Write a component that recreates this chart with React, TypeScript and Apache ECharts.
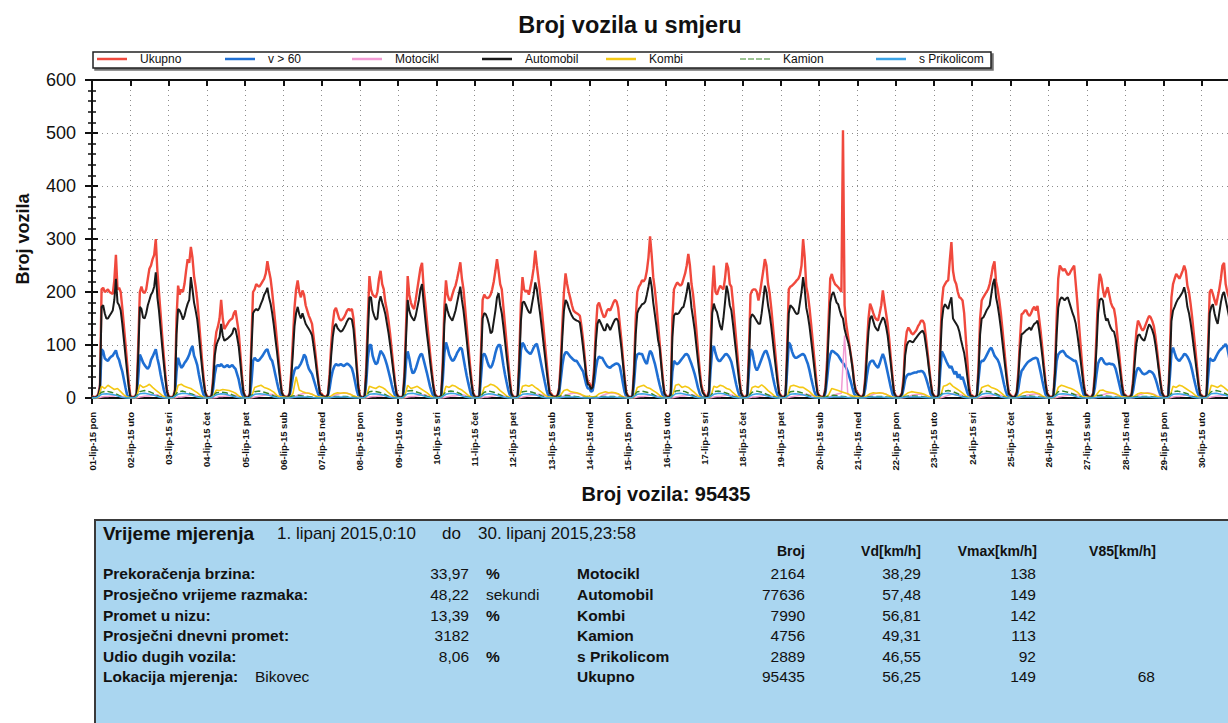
import { useEffect, useRef } from 'react';
import * as echarts from 'echarts';

const FONT = "'Liberation Sans', Arial, Helvetica, sans-serif";

const chartTitle = 'Broj vozila u smjeru';
const yAxisTitle = 'Broj vozila';
const xAxisTitle = 'Broj vozila: 95435';

const dayLabels = [
  '01-lip-15 pon', '02-lip-15 uto', '03-lip-15 sri', '04-lip-15 čet', '05-lip-15 pet', '06-lip-15 sub', '07-lip-15 ned',
  '08-lip-15 pon', '09-lip-15 uto', '10-lip-15 sri', '11-lip-15 čet', '12-lip-15 pet', '13-lip-15 sub', '14-lip-15 ned',
  '15-lip-15 pon', '16-lip-15 uto', '17-lip-15 sri', '18-lip-15 čet', '19-lip-15 pet', '20-lip-15 sub', '21-lip-15 ned',
  '22-lip-15 pon', '23-lip-15 uto', '24-lip-15 sri', '25-lip-15 čet', '26-lip-15 pet', '27-lip-15 sub', '28-lip-15 ned',
  '29-lip-15 pon', '30-lip-15 uto',
];

// hourly counts, one row per day (24 values)
const ukupno = [
  [4,2,2,3,8,25,205,208,200,202,205,200,198,196,222,270,205,208,200,170,136,102,67,32],
  [5,2,2,3,10,100,200,210,200,198,205,225,244,250,262,270,300,240,200,160,118,80,45,15],
  [4,2,2,3,15,150,212,195,205,200,215,240,262,255,285,265,230,210,185,150,110,72,38,12],
  [4,2,2,5,40,100,125,135,150,185,150,130,135,140,145,148,150,160,165,145,125,85,45,12],
  [4,2,2,8,110,200,205,215,212,210,215,220,225,235,258,240,225,200,170,140,108,75,42,12],
  [5,3,2,3,10,50,110,170,205,222,200,190,203,195,175,165,155,148,140,115,88,60,32,10],
  [8,4,3,3,8,45,100,140,165,170,160,150,146,148,152,158,165,168,165,168,150,110,65,25],
  [5,2,2,4,60,150,230,205,195,192,190,200,225,240,215,205,180,165,145,120,90,60,32,10],
  [4,2,2,4,50,140,230,195,180,172,168,185,205,225,245,255,208,180,148,118,85,55,28,8],
  [4,2,2,5,70,170,222,195,185,184,195,205,212,225,240,256,225,205,170,135,100,65,35,10],
  [4,2,2,5,90,185,195,190,188,190,195,205,220,240,262,240,215,205,172,138,104,70,38,10],
  [4,2,2,5,80,180,228,205,200,203,195,210,225,245,278,250,225,200,170,138,105,72,40,12],
  [8,4,3,3,6,20,70,140,200,235,215,200,188,175,165,162,160,158,155,135,110,78,45,30],
  [28,20,25,60,130,175,180,170,160,152,155,165,168,165,172,180,185,182,170,140,110,75,40,12],
  [5,2,2,5,60,150,200,210,215,222,220,225,240,265,305,270,228,205,175,140,105,70,38,10],
  [5,2,3,10,150,205,212,218,215,212,215,225,235,250,272,250,215,195,165,130,92,58,28,14],
  [8,3,3,15,100,200,250,200,195,205,212,208,205,225,255,245,215,210,180,145,110,75,40,12],
  [5,2,2,8,90,195,203,205,205,200,184,200,220,240,262,250,215,198,170,138,104,70,38,10],
  [5,2,2,8,100,205,210,212,215,218,222,225,232,250,300,265,210,195,170,140,108,75,42,12],
  [5,3,2,4,20,70,150,225,234,222,215,212,209,205,200,505,175,140,120,100,80,60,30,15],
  [10,5,3,3,8,40,100,150,178,170,160,152,148,146,160,175,203,180,160,140,110,75,42,12],
  [5,2,2,4,10,40,100,125,133,128,122,120,124,128,135,140,146,146,140,115,88,60,32,10],
  [5,2,2,8,100,180,209,215,220,222,260,294,240,222,215,200,190,188,184,160,115,70,25,6],
  [5,2,2,6,60,150,184,190,195,200,205,215,230,248,258,220,205,185,160,130,98,65,35,10],
  [6,3,2,4,12,50,110,158,160,165,165,158,155,160,168,172,165,174,150,125,95,62,32,10],
  [5,2,2,6,60,150,225,250,245,240,244,238,232,234,240,245,250,215,180,140,100,62,28,8],
  [6,3,2,3,10,50,120,200,234,225,205,190,200,209,195,180,172,168,150,120,90,58,28,8],
  [6,3,2,3,8,35,85,125,146,140,132,127,132,140,148,155,152,145,135,115,90,62,35,12],
  [5,2,2,5,80,190,215,225,234,230,225,232,240,250,240,212,200,178,152,122,92,60,30,8],
  [5,2,2,6,100,200,205,196,185,175,190,205,225,250,255,215,200,190,165,135,100,65,35,10],
];

const automobil = [
  [3,1,1,2,6,20,172,175,160,150,150,155,160,165,185,225,180,175,165,140,110,80,50,22],
  [2,1,1,2,8,80,172,168,152,150,160,175,185,195,200,210,237,190,165,132,98,66,36,12],
  [3,1,1,2,12,120,168,165,158,148,155,168,178,185,228,205,180,165,148,120,88,58,30,10],
  [3,1,1,4,30,80,100,108,115,140,118,108,110,112,115,118,122,132,130,115,98,68,35,10],
  [3,1,1,6,90,160,165,168,165,170,178,185,195,200,208,190,178,160,138,112,88,60,33,10],
  [4,2,1,2,8,40,85,135,160,172,158,150,160,150,140,135,130,125,118,98,75,50,27,8],
  [6,3,2,2,6,35,80,115,135,140,132,128,125,127,132,138,145,150,150,148,130,95,55,20],
  [4,1,1,3,45,120,190,190,165,155,148,150,180,192,180,170,158,140,122,100,75,50,26,8],
  [3,1,1,3,40,115,185,165,155,150,146,155,170,185,205,215,180,150,122,98,70,45,22,6],
  [3,1,1,4,55,140,178,165,155,150,146,155,165,180,195,210,185,165,138,110,80,52,27,8],
  [3,1,1,4,72,150,160,158,150,138,122,125,145,165,190,198,175,160,135,108,80,54,28,8],
  [3,1,1,4,65,145,180,182,175,168,162,160,178,195,218,205,182,160,135,108,82,55,30,9],
  [6,3,2,2,5,16,55,115,165,185,180,170,162,155,150,148,146,145,142,120,95,68,40,26],
  [24,17,20,48,105,140,148,142,135,128,128,140,135,128,135,142,148,150,145,120,95,65,35,10],
  [4,1,1,4,48,120,160,168,172,177,178,182,195,210,228,210,180,158,135,110,95,62,30,8],
  [4,1,2,8,115,155,160,158,160,165,170,172,185,200,218,200,170,150,128,100,72,45,22,10],
  [6,2,2,12,80,160,178,168,162,148,135,128,150,180,212,198,175,165,140,112,85,56,30,9],
  [4,1,1,6,70,150,158,155,150,145,140,140,160,185,212,200,175,158,135,108,80,54,28,8],
  [4,1,1,6,80,160,175,172,168,162,158,160,180,200,228,205,170,155,135,110,84,57,30,9],
  [4,2,1,3,15,55,120,180,195,200,190,180,177,165,155,150,130,118,108,97,78,55,28,12],
  [8,4,2,2,6,32,80,125,150,155,145,135,130,127,138,145,152,148,135,118,92,64,35,10],
  [4,1,1,3,8,30,80,100,106,108,106,105,110,114,118,122,125,127,120,100,78,52,28,9],
  [4,1,1,6,80,145,170,177,172,168,180,190,150,145,140,135,125,110,97,85,65,40,15,4],
  [4,1,1,5,48,120,150,152,158,165,170,175,195,215,225,190,175,155,132,105,78,52,27,8],
  [5,2,1,3,10,40,90,120,122,125,128,130,133,128,135,140,142,146,128,105,80,52,27,8],
  [4,1,1,5,48,120,170,185,190,188,184,188,190,180,170,160,152,140,120,98,72,46,22,6],
  [5,2,1,2,8,40,95,160,185,188,184,160,146,150,140,132,127,125,112,92,70,46,22,6],
  [5,2,1,2,6,28,68,102,118,120,114,110,108,118,130,139,135,128,118,100,78,54,30,10],
  [4,1,1,4,62,145,165,172,180,186,190,195,200,209,195,172,160,142,120,96,72,47,23,6],
  [4,1,1,5,80,160,172,177,160,148,140,160,180,195,200,185,170,155,130,105,78,50,25,8],
];

const preko60 = [
  [1,0,0,1,3,15,92,88,75,72,70,75,78,80,85,90,78,72,60,50,35,20,6,2],
  [1,0,0,1,4,40,82,75,67,62,58,55,60,72,78,85,92,75,62,45,30,16,6,2],
  [1,0,0,1,5,50,76,65,57,60,66,70,75,82,92,98,80,72,62,45,30,16,6,2],
  [1,0,0,2,18,45,60,62,60,64,60,58,60,62,58,60,62,58,55,45,35,20,8,2],
  [1,0,0,2,30,70,76,72,70,72,76,80,85,90,92,82,74,70,58,44,30,17,7,2],
  [2,1,0,1,5,20,40,52,58,56,60,65,72,82,78,65,55,50,45,35,25,15,6,2],
  [3,1,1,1,5,18,38,52,60,64,62,62,64,62,60,63,65,63,60,56,45,30,15,5],
  [2,0,0,1,30,75,100,100,80,70,64,66,78,89,85,80,72,62,50,38,25,13,5,2],
  [1,0,0,1,25,70,88,75,58,47,48,55,65,75,82,83,72,60,48,35,22,12,4,1],
  [1,0,0,2,35,85,105,95,82,75,70,72,78,85,90,95,92,75,58,42,28,15,5,1],
  [1,0,0,2,40,80,84,78,68,60,57,62,72,85,95,100,100,82,62,45,30,16,6,2],
  [1,0,0,2,40,90,104,100,92,88,85,83,88,95,100,102,90,75,60,45,30,16,6,2],
  [3,1,1,1,3,10,35,62,80,86,86,82,78,75,72,70,70,65,60,55,50,38,25,18],
  [18,12,14,30,55,72,78,76,76,70,65,60,58,57,60,62,64,65,64,60,45,28,12,3],
  [1,0,0,2,30,70,82,84,83,83,75,68,64,78,89,85,75,65,52,38,25,14,5,1],
  [1,0,0,4,50,70,66,64,66,70,74,78,82,83,80,72,64,55,45,33,20,10,3,1],
  [2,0,0,6,55,90,98,85,75,70,70,74,78,82,83,80,75,68,55,40,26,14,5,1],
  [1,0,0,3,50,92,88,72,58,52,58,66,74,82,88,89,80,70,56,40,26,14,5,1],
  [1,0,0,3,55,105,100,88,80,76,76,78,80,82,83,80,72,64,52,38,25,13,5,1],
  [2,1,0,1,10,35,65,82,89,88,85,83,80,75,70,66,62,57,50,40,30,18,8,4],
  [4,2,1,1,4,18,42,60,68,70,70,64,60,57,65,75,83,75,62,48,34,20,8,2],
  [1,0,0,1,5,18,35,42,45,45,46,47,48,48,50,50,51,50,46,38,28,17,7,2],
  [1,0,0,4,50,88,82,75,68,62,57,60,52,45,50,38,45,35,40,30,20,10,4,1],
  [1,0,0,3,35,65,70,70,74,80,86,92,95,88,80,76,72,65,54,40,26,14,5,1],
  [2,1,0,1,5,18,38,51,55,60,64,68,70,72,74,75,76,74,62,48,33,19,7,2],
  [1,0,0,3,35,70,82,86,88,89,85,80,78,76,74,72,70,70,60,45,30,16,6,1],
  [2,1,0,1,5,20,45,65,72,76,72,66,64,64,65,64,64,62,55,43,30,17,6,2],
  [2,1,0,1,4,15,35,50,57,55,50,46,45,46,48,51,50,48,44,36,26,15,6,2],
  [1,0,0,3,40,85,95,85,76,72,70,74,78,83,82,78,72,64,52,38,25,13,5,1],
  [1,0,0,3,40,75,72,70,72,78,84,89,92,95,98,102,95,80,62,45,30,16,6,1],
];

// two-hourly counts (12 values per day)
const kombi = [
  [1,0,1,22,18,24,20,16,18,12,6,2],
  [1,0,2,25,20,22,26,20,15,10,5,1],
  [1,0,2,24,26,22,20,18,14,10,5,1],
  [1,0,3,15,14,16,15,14,12,9,4,1],
  [1,0,2,20,22,24,20,18,15,11,5,2],
  [2,1,1,8,40,15,12,10,9,7,4,2],
  [2,1,1,4,8,10,9,10,9,7,4,2],
  [1,0,2,22,20,18,22,20,16,10,5,1],
  [1,0,2,24,18,20,22,18,14,10,5,1],
  [1,0,3,22,20,24,22,18,15,10,5,1],
  [1,0,2,20,22,26,24,20,14,9,4,1],
  [1,0,2,22,24,22,25,20,16,11,6,2],
  [2,1,1,6,14,16,12,11,10,8,5,3],
  [3,2,3,8,10,12,10,11,10,8,4,1],
  [1,0,2,20,22,24,20,18,14,10,5,1],
  [1,0,3,24,26,20,22,20,15,10,4,1],
  [1,0,2,22,20,24,22,18,16,10,5,1],
  [1,0,2,20,22,20,25,20,14,9,4,1],
  [1,0,2,22,24,22,20,20,16,12,6,2],
  [2,1,1,6,18,16,14,12,10,8,5,3],
  [3,1,1,4,8,10,9,10,9,7,4,2],
  [1,0,1,6,10,12,11,10,9,7,4,1],
  [1,0,2,22,24,28,22,18,14,9,4,1],
  [1,0,2,20,22,24,20,18,15,10,5,1],
  [1,0,1,6,10,12,11,12,10,8,4,1],
  [1,0,2,20,24,22,20,18,15,11,5,2],
  [2,1,1,6,14,15,12,11,10,8,5,2],
  [2,1,1,4,8,10,9,9,8,6,3,1],
  [1,0,2,22,20,24,22,18,14,10,5,1],
  [1,0,2,24,22,20,24,20,15,10,5,1],
];

const motocikl = [
  [0,0,0,2,3,3,4,4,5,4,2,1],
  [0,0,0,2,3,4,4,5,6,5,3,1],
  [0,0,0,2,2,3,4,5,6,4,3,1],
  [0,0,0,1,3,3,4,4,5,5,3,1],
  [0,0,0,2,3,4,5,6,7,6,4,1],
  [1,0,0,1,4,6,8,9,9,7,4,2],
  [1,1,0,1,5,7,9,10,9,7,4,2],
  [0,0,0,2,3,3,4,4,5,4,2,1],
  [0,0,0,2,3,3,4,5,6,5,3,1],
  [0,0,0,2,3,4,4,5,6,5,3,1],
  [0,0,0,2,2,3,4,5,6,4,3,1],
  [0,0,0,2,3,4,5,6,7,6,4,1],
  [1,0,0,1,4,6,8,9,9,7,4,2],
  [2,1,0,1,5,7,9,10,9,7,4,2],
  [0,0,0,2,3,3,4,5,5,4,2,1],
  [0,0,0,2,3,4,4,5,6,5,3,1],
  [0,0,0,2,3,3,4,5,6,5,3,1],
  [0,0,0,2,2,3,4,5,6,4,3,1],
  [0,0,0,2,3,4,5,6,7,6,4,1],
  [1,0,0,1,4,6,8,9,118,7,4,2],
  [1,1,0,1,5,7,9,10,9,7,4,2],
  [0,0,0,1,3,5,6,7,7,6,3,1],
  [0,0,0,2,4,6,8,5,6,5,3,1],
  [0,0,0,2,3,4,4,5,6,5,3,1],
  [0,0,0,1,3,5,6,7,8,6,3,1],
  [0,0,0,2,3,4,5,6,7,6,4,1],
  [1,0,0,1,4,6,8,9,9,7,4,2],
  [1,1,0,1,5,7,9,10,9,7,4,2],
  [0,0,0,2,3,3,4,5,5,4,2,1],
  [0,0,0,2,3,4,4,5,6,5,3,1],
];

// three-hourly counts (8 values per day)
const kamion = [
  [0,1,11,13,11,8,3,1], [0,1,12,14,12,8,3,1], [0,1,12,13,10,7,3,1], [0,1,10,11,10,7,3,1],
  [0,1,12,13,11,8,4,1], [0,0,4,5,4,3,2,1], [0,0,2,3,3,3,2,1], [0,1,12,13,11,8,3,1],
  [0,1,13,14,11,8,3,1], [0,1,12,13,12,8,3,1], [0,1,11,13,11,7,3,1], [0,1,12,13,11,8,4,1],
  [0,0,4,5,4,3,2,1], [1,1,2,3,3,3,2,1], [0,1,12,13,11,8,3,1], [0,1,13,14,12,8,3,1],
  [0,1,12,13,11,8,3,1], [0,1,11,13,11,7,3,1], [0,1,12,13,11,8,4,1], [0,0,4,5,4,3,2,1],
  [0,0,2,3,3,3,2,1], [0,0,3,4,4,3,2,1], [0,1,12,14,12,8,3,1], [0,1,12,13,11,8,3,1],
  [0,0,3,4,4,3,2,1], [0,1,12,13,11,8,4,1], [0,0,4,5,4,3,2,1], [0,0,2,3,3,3,2,1],
  [0,1,12,13,11,8,3,1], [0,1,12,14,12,8,3,1],
];

const sPrikolicom = [
  [0,1,7,8,7,5,2,0], [0,1,8,9,7,5,2,0], [0,1,7,9,8,5,2,0], [0,1,6,8,7,4,2,0],
  [0,1,7,8,7,5,2,0], [0,0,1,2,2,2,1,0], [0,0,1,2,2,2,1,0], [0,1,7,8,7,5,2,0],
  [0,1,8,9,7,5,2,0], [0,1,7,9,8,5,2,0], [0,1,6,8,7,4,2,0], [0,1,7,8,7,5,2,0],
  [0,0,1,2,2,2,1,0], [0,0,1,2,2,2,1,0], [0,1,7,8,7,5,2,0], [0,1,8,9,7,5,2,0],
  [0,1,7,9,8,5,2,0], [0,1,6,8,7,4,2,0], [0,1,7,8,7,5,2,0], [0,0,1,2,2,2,1,0],
  [0,0,1,2,2,2,1,0], [0,0,2,2,2,2,1,0], [0,1,8,9,7,5,2,0], [0,1,7,9,8,5,2,0],
  [0,0,2,2,2,2,1,0], [0,1,7,8,7,5,2,0], [0,0,1,2,2,2,1,0], [0,0,1,2,2,2,1,0],
  [0,1,7,8,7,5,2,0], [0,1,8,9,7,5,2,0],
];

// summary table
const measureLabel = 'Vrijeme mjerenja';
const measureFrom = '1. lipanj 2015,0:10';
const measureDo = 'do';
const measureTo = '30. lipanj 2015,23:58';
const statLabels = ['Prekoračenja brzina:', 'Prosječno vrijeme razmaka:', 'Promet u nizu:', 'Prosječni dnevni promet:', 'Udio dugih vozila:', 'Lokacija mjerenja:'];
const statValues = ['33,97', '48,22', '13,39', '3182', '8,06', ''];
const statUnits = ['%', 'sekundi', '%', '', '%', ''];
const locationName = 'Bikovec';
const tableHeaders = ['Broj', 'Vd[km/h]', 'Vmax[km/h]', 'V85[km/h]'];
const tableCategories = ['Motocikl', 'Automobil', 'Kombi', 'Kamion', 's Prikolicom', 'Ukupno'];
const colBroj = ['2164', '77636', '7990', '4756', '2889', '95435'];
const colVd = ['38,29', '57,48', '56,81', '49,31', '46,55', '56,25'];
const colVmax = ['138', '149', '142', '113', '92', '149'];
const colV85 = ['', '', '', '', '', '68'];

const seriesDefs = [
  { name: 'Ukupno', rows: ukupno, step: 1, color: '#f0493d', width: 2.4, type: 'solid' },
  { name: 'v > 60', rows: preko60, step: 1, color: '#1f6fd3', width: 2.6, type: 'solid' },
  { name: 'Motocikl', rows: motocikl, step: 2, color: '#f29bd4', width: 1.5, type: 'solid' },
  { name: 'Automobil', rows: automobil, step: 1, color: '#1a1a1a', width: 2, type: 'solid' },
  { name: 'Kombi', rows: kombi, step: 2, color: '#f4c814', width: 1.6, type: 'solid' },
  { name: 'Kamion', rows: kamion, step: 3, color: '#3d8a2a', width: 1.5, type: 'dashed' },
  { name: 's Prikolicom', rows: sPrikolicom, step: 3, color: '#3aa3e6', width: 1.5, type: 'solid' },
];
const legendItemLeft = [97, 225, 352, 482, 606, 740, 876];
const dashedIcon = 'path://M0,0h6v1h-6z M8,0h6v1h-6z M16,0h6v1h-6z M24,0h6v1h-6z';

const toPoints = (rows: number[][], step: number) =>
  rows.flatMap((row, d) => row.map((v, k) => [d * 24 + k * step, v]));

function txt(x: number, y: number, text: string, size: number, bold: boolean, align = 'left') {
  return {
    type: 'text',
    x,
    y,
    silent: true,
    style: {
      text,
      fill: '#111',
      fontSize: size,
      fontWeight: bold ? 'bold' : 'normal',
      fontFamily: FONT,
      align,
      textAlign: align,
      verticalAlign: 'middle',
      textVerticalAlign: 'middle',
    },
  };
}

function buildGraphics() {
  const els: any[] = [
    {
      type: 'rect',
      shape: { x: 93, y: 52, width: 898, height: 16 },
      style: {
        fill: '#fff',
        stroke: '#222',
        lineWidth: 1.5,
        shadowColor: 'rgba(0,0,0,0.55)',
        shadowOffsetX: 2,
        shadowOffsetY: 2,
        shadowBlur: 1,
      },
      silent: true,
      z: -1,
    },
    {
      type: 'rect',
      shape: { x: 95, y: 520, width: 1200, height: 260 },
      style: { fill: '#aad6f0', stroke: '#3a3a3a', lineWidth: 2 },
      silent: true,
    },
    txt(103, 533, measureLabel, 19, true),
    txt(277, 533, measureFrom, 17, false),
    txt(442, 533, measureDo, 17, false),
    txt(478, 533, measureTo, 17, false),
  ];
  const headerRight = [805, 921, 1037, 1156];
  tableHeaders.forEach((h, i) => els.push(txt(headerRight[i], 551, h, 14, true, 'right')));
  const rowY = [573, 594, 615, 635, 656, 676];
  const fs = 15.5;
  rowY.forEach((y, i) => {
    els.push(txt(103, y, statLabels[i], fs, true));
    if (statValues[i]) els.push(txt(469, y, statValues[i], fs, false, 'right'));
    if (statUnits[i]) els.push(txt(486, y, statUnits[i], fs, statUnits[i] === '%'));
    els.push(txt(577, y, tableCategories[i], fs, true));
    els.push(txt(805, y, colBroj[i], fs, false, 'right'));
    els.push(txt(921, y, colVd[i], fs, false, 'right'));
    els.push(txt(1036, y, colVmax[i], fs, false, 'right'));
    if (colV85[i]) els.push(txt(1155, y, colV85[i], fs, false, 'right'));
  });
  els.push(txt(255, rowY[5], locationName, fs, false));
  return els;
}

const dotted = { color: '#8c8c8c', type: [1, 4] as any, width: 1 };
const axisBlack = { color: '#111', width: 2 };

function buildOption(): any {
  return {
    animation: false,
    backgroundColor: '#fff',
    textStyle: { fontFamily: FONT },
    title: {
      text: chartTitle,
      left: 'center',
      top: 8,
      textStyle: { fontSize: 23.5, fontWeight: 'bold', color: '#111', fontFamily: FONT },
    },
    legend: seriesDefs.map((s, i) => ({
      left: legendItemLeft[i],
      top: 53,
      itemWidth: 30,
      itemHeight: 2.5,
      padding: 0,
      selectedMode: false,
      icon: s.type === 'dashed' ? dashedIcon : 'rect',
      textStyle: { fontSize: 12, color: '#111', fontFamily: FONT, padding: [0, 0, 0, 8] },
      data: [s.name],
    })),
    grid: [
      { left: 92, right: 20, top: 80, bottom: 325 },
      { left: 92, right: 20, top: 80, bottom: 325 },
    ],
    xAxis: [
      {
        type: 'value',
        gridIndex: 0,
        position: 'bottom',
        min: 0,
        max: 720,
        interval: 24,
        name: xAxisTitle,
        nameLocation: 'middle',
        nameGap: 86,
        nameTextStyle: { fontSize: 20, fontWeight: 'bold', color: '#111', fontFamily: FONT },
        axisLine: { show: true, onZero: false, lineStyle: axisBlack },
        axisTick: { show: true, length: 6, lineStyle: axisBlack },
        axisLabel: {
          rotate: 90,
          fontSize: 9.5,
          fontWeight: 'bold',
          color: '#111',
          margin: 14,
          showMaxLabel: false,
          fontFamily: FONT,
          formatter: (v: number) => {
            const i = Math.round(v / 24);
            return i < dayLabels.length ? dayLabels[i] : '';
          },
        },
        splitLine: { show: true, lineStyle: dotted },
      },
      {
        type: 'value',
        gridIndex: 0,
        position: 'top',
        min: 0,
        max: 720,
        interval: 24,
        axisLine: { show: true, onZero: false, lineStyle: axisBlack },
        axisTick: { show: true, inside: true, length: 6, lineStyle: axisBlack },
        axisLabel: { show: false },
        splitLine: { show: false },
      },
      { type: 'value', gridIndex: 1, min: 0, max: 720, show: false },
    ],
    yAxis: [
      {
        type: 'value',
        gridIndex: 0,
        position: 'left',
        min: 0,
        max: 600,
        interval: 100,
        name: yAxisTitle,
        nameLocation: 'middle',
        nameRotate: 90,
        nameGap: 60,
        nameTextStyle: { fontSize: 18, fontWeight: 'bold', color: '#111', fontFamily: FONT },
        axisLine: { show: true, onZero: false, lineStyle: axisBlack },
        axisTick: { show: true, length: 7, lineStyle: axisBlack },
        minorTick: { show: true, splitNumber: 5, length: 4, lineStyle: { color: '#111', width: 1.5 } },
        axisLabel: { fontSize: 18, color: '#111', margin: 16, fontFamily: FONT },
        splitLine: { show: true, lineStyle: dotted },
      },
      {
        type: 'value',
        gridIndex: 1,
        position: 'left',
        min: 0,
        max: 600,
        interval: 100,
        axisLine: { show: false, onZero: false },
        axisTick: { show: true, inside: true, length: 6, lineStyle: axisBlack },
        minorTick: { show: true, splitNumber: 5, length: 4, lineStyle: { color: '#111', width: 1.5 } },
        axisLabel: { show: false },
        splitLine: { show: false },
      },
    ],
    series: seriesDefs.map((s) => ({
      name: s.name,
      type: 'line',
      xAxisIndex: 0,
      yAxisIndex: 0,
      data: toPoints(s.rows, s.step),
      symbol: 'none',
      showSymbol: false,
      smooth: false,
      lineStyle: { color: s.color, width: s.width, type: s.type },
      itemStyle: { color: s.color },
      emphasis: { disabled: true },
    })),
    graphic: buildGraphics(),
  };
}

export default function App() {
  const ref = useRef<HTMLDivElement>(null);
  useEffect(() => {
    if (!ref.current) return;
    const chart = echarts.init(ref.current, null, { renderer: 'svg' });
    chart.setOption(buildOption());
    return () => chart.dispose();
  }, []);
  return (
    <div style={{ position: 'fixed', left: 0, top: 0, width: 1228, height: 723, overflow: 'hidden', background: '#fff' }}>
      <div ref={ref} style={{ width: 1260, height: 723 }} />
    </div>
  );
}
